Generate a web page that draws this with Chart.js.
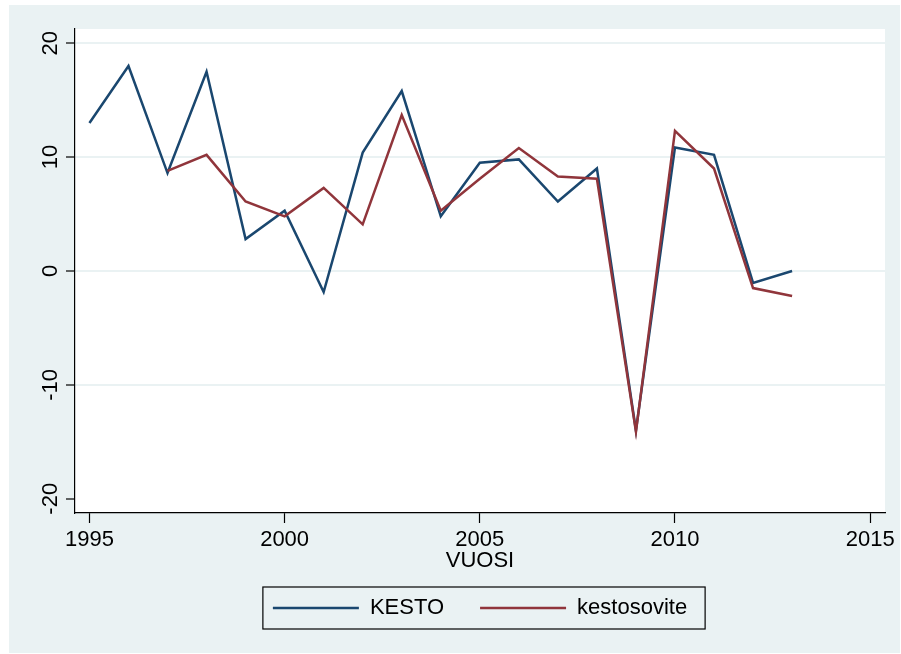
<!DOCTYPE html>
<html>
<head>
<meta charset="utf-8">
<script src="https://cdn.jsdelivr.net/npm/chart.js@4.4.1/dist/chart.umd.min.js"></script>
<style>
  html, body { margin: 0; padding: 0; background: #fff; }
  #wrap { width: 901px; height: 654px; }
</style>
</head>
<body>
<div id="wrap"><canvas id="chart" width="901" height="654"></canvas></div>
<script>
// data
const years = [1995, 1996, 1997, 1998, 1999, 2000, 2001, 2002, 2003, 2004,
               2005, 2006, 2007, 2008, 2009, 2010, 2011, 2012, 2013];
const kesto = [13.0, 18.0, 8.6, 17.5, 2.8, 5.3, -1.85, 10.4, 15.8, 4.8,
               9.5, 9.8, 6.1, 9.0, -14.0, 10.85, 10.2, -1.05, 0.0];
const kestosovite = [null, null, 8.8, 10.2, 6.1, 4.8, 7.3, 4.1, 13.7, 5.3,
                     8.1, 10.8, 8.3, 8.1, -14.1, 12.3, 9.0, -1.5, -2.2];
const xTicks = [1995, 2000, 2005, 2010, 2015];
const yTicks = [-20, -10, 0, 10, 20];

const BG = '#EAF2F3';
const FONT = 'Liberation Sans, Arial, sans-serif';

const toPoints = vals => years.map((yr, i) => ({ x: yr, y: vals[i] }));

// background, plot region, rotated y labels, legend frame
const stataLook = {
  id: 'stataLook',
  beforeDraw(chart) {
    const { ctx, chartArea: a } = chart;
    ctx.save();
    ctx.fillStyle = '#fff';
    ctx.fillRect(0, 0, chart.width, chart.height);
    ctx.fillStyle = BG;
    ctx.fillRect(9, 5, 891, 648);
    ctx.fillStyle = '#fff';
    ctx.fillRect(a.left, a.top, a.right - a.left, a.bottom - a.top);
    ctx.restore();
  },
  afterDraw(chart) {
    const { ctx } = chart;
    const ys = chart.scales.y;
    ctx.save();
    ctx.fillStyle = '#000';
    ctx.font = '22px ' + FONT;
    ctx.textAlign = 'center';
    ctx.textBaseline = 'alphabetic';
    yTicks.forEach(v => {
      const py = ys.getPixelForValue(v);
      ctx.save();
      ctx.translate(57, py);
      ctx.rotate(-Math.PI / 2);
      ctx.fillText(String(v), 0, 0);
      ctx.restore();
    });
    const hb = chart.legend.legendHitBoxes;
    if (hb && hb.length) {
      const first = hb[0], last = hb[hb.length - 1];
      const cy = first.top + first.height / 2;
      const l = first.left - 10, r = last.left + last.width + 18;
      ctx.strokeStyle = '#000';
      ctx.lineWidth = 1.2;
      ctx.strokeRect(l, cy - 21, r - l, 42);
    }
    ctx.restore();
  }
};

new Chart(document.getElementById('chart'), {
  type: 'line',
  data: {
    datasets: [
      {
        label: 'KESTO',
        data: toPoints(kesto),
        borderColor: '#1A476F',
        backgroundColor: '#1A476F',
        borderWidth: 2.5,
        order: 1
      },
      {
        label: 'kestosovite',
        data: toPoints(kestosovite),
        borderColor: '#90353B',
        backgroundColor: '#90353B',
        borderWidth: 2.5,
        order: 0
      }
    ]
  },
  options: {
    responsive: false,
    animation: false,
    events: [],
    elements: {
      point: { radius: 0 },
      line: { tension: 0, fill: false }
    },
    layout: { padding: { left: 0, top: 29, right: 16, bottom: 25 } },
    scales: {
      x: {
        type: 'linear',
        min: 1994.63,
        max: 2015.38,
        afterBuildTicks: s => { s.ticks = xTicks.map(v => ({ value: v })); },
        afterFit: s => { s.height = 48; },
        grid: {
          drawOnChartArea: false,
          drawTicks: true,
          tickLength: 10,
          tickColor: '#000',
          tickWidth: 1.2
        },
        border: { color: '#000', width: 1.2 },
        ticks: {
          color: '#000',
          font: { family: FONT, size: 22 },
          padding: 4,
          maxRotation: 0,
          callback: v => String(v)
        },
        title: {
          display: true,
          text: 'VUOSI',
          color: '#000',
          font: { family: FONT, size: 22 },
          padding: { top: 0, bottom: -13 }
        }
      },
      y: {
        type: 'linear',
        min: -21.25,
        max: 21.25,
        afterBuildTicks: s => { s.ticks = yTicks.map(v => ({ value: v })); },
        afterFit: s => { s.width = 75; },
        grid: {
          color: c => (c.tick && c.tick.value === -20) ? 'rgba(0,0,0,0)' : BG,
          lineWidth: 2,
          drawTicks: true,
          tickLength: 9,
          tickColor: '#000',
          tickWidth: 1.2
        },
        border: { color: '#000', width: 1.2 },
        ticks: { display: false }
      }
    },
    plugins: {
      tooltip: { enabled: false },
      legend: {
        position: 'bottom',
        fullSize: false,
        labels: {
          usePointStyle: true,
          pointStyle: 'line',
          pointStyleWidth: 86,
          boxHeight: 22,
          color: '#000',
          font: { family: FONT, size: 22 },
          padding: 36,
          sort: (a, b) => a.datasetIndex - b.datasetIndex
        }
      }
    }
  },
  plugins: [stataLook]
});
</script>
</body>
</html>
